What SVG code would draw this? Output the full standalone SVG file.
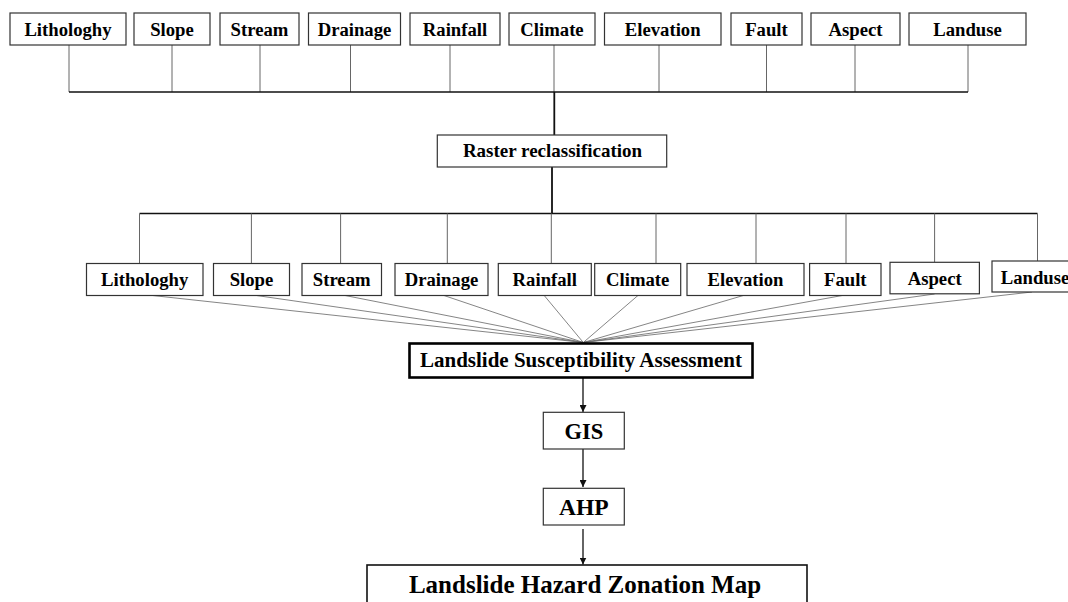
<svg xmlns="http://www.w3.org/2000/svg" width="1068" height="602" viewBox="0 0 1068 602">
<defs>
<style>
.box{fill:#fff;stroke:#333;stroke-width:1.2}
.thick{fill:#fff;stroke:#000;stroke-width:2.6}
.t{font-family:"Liberation Serif","Times New Roman",serif;font-weight:bold;fill:#000;text-anchor:middle}
.s{font-size:18.7px}
.drop{stroke:#666;stroke-width:1;fill:none}
.bus{stroke:#111;stroke-width:1.6;fill:none}
.fan{stroke:#666;stroke-width:0.8;fill:none}
.arr{stroke:#111;stroke-width:1.3;fill:none;marker-end:url(#ah)}
</style>
<marker id="ah" viewBox="0 0 10 10" refX="10" refY="5" markerWidth="7" markerHeight="7" markerUnits="userSpaceOnUse" orient="auto">
<path d="M0,0 L10,5 L0,10 z" fill="#111"/>
</marker>
</defs>
<rect width="1068" height="602" fill="#fff"/>

<g id="connectors">
<path class="drop" d="M69,45V92 M172,45V92 M260,45V92 M350.5,45V92 M450,45V92 M554,45V92 M659,45V92 M766.5,45V92 M855,45V92 M968,45V92"/>
<path class="bus" d="M69,92H968"/>
<path class="bus" d="M554.3,92V135" style="stroke-width:1.8"/>
<path class="bus" d="M552,167V213.5" style="stroke-width:1.8"/>
<path class="bus" d="M139.5,213.5H1037.5"/>
<path class="drop" d="M139.5,213.5V263 M251.4,213.5V263 M340.6,213.5V263 M447.3,213.5V263 M551.3,213.5V263 M656,213.5V263 M756,213.5V263 M846,213.5V263 M934.6,213.5V262 M1037.5,213.5V261"/>
<path class="fan" d="M148,295L583.3,342.5 M253,295L583.3,342.5 M342.6,295L583.3,342.5 M442.5,295L583.3,342.5 M543.8,295L583.3,342.5 M638.5,295L583.3,342.5 M745,295L583.3,342.5 M845,295L583.3,342.5 M934.6,294L583.3,342.5 M1032,292L583.3,342.5"/>
<path class="arr" d="M583,378V412"/>
<path class="arr" d="M583,449V487"/>
<path class="arr" d="M583,529V564.5"/>
</g>

<g id="top-lithologhy"><rect class="box" x="10" y="13" width="116" height="32"/><text class="t s" x="68" y="35.5">Lithologhy</text></g>
<g id="top-slope"><rect class="box" x="134" y="13" width="76" height="32"/><text class="t s" x="172" y="35.5">Slope</text></g>
<g id="top-stream"><rect class="box" x="220" y="13" width="79" height="32"/><text class="t s" x="259.5" y="35.5">Stream</text></g>
<g id="top-drainage"><rect class="box" x="308.5" y="13" width="92" height="32"/><text class="t s" x="354.5" y="35.5">Drainage</text></g>
<g id="top-rainfall"><rect class="box" x="410" y="13" width="90" height="32"/><text class="t s" x="455" y="35.5">Rainfall</text></g>
<g id="top-climate"><rect class="box" x="509" y="13" width="86" height="32"/><text class="t s" x="552" y="35.5">Climate</text></g>
<g id="top-elevation"><rect class="box" x="604.5" y="13" width="116.5" height="32"/><text class="t s" x="662.7" y="35.5">Elevation</text></g>
<g id="top-fault"><rect class="box" x="731" y="13" width="71" height="32"/><text class="t s" x="766.5" y="35.5">Fault</text></g>
<g id="top-aspect"><rect class="box" x="811" y="13" width="89" height="32"/><text class="t s" x="855.5" y="35.5">Aspect</text></g>
<g id="top-landuse"><rect class="box" x="909" y="13" width="117" height="32"/><text class="t s" x="967.5" y="35.5">Landuse</text></g>

<g id="raster"><rect class="box" x="437.3" y="135" width="229.4" height="32"/><text class="t" style="font-size:19px" x="552.5" y="157.3">Raster reclassification</text></g>

<g id="mid-lithologhy"><rect class="box" x="86.5" y="263.5" width="116.5" height="32"/><text class="t s" x="144.7" y="286">Lithologhy</text></g>
<g id="mid-slope"><rect class="box" x="213.5" y="263.5" width="76" height="32"/><text class="t s" x="251.5" y="286">Slope</text></g>
<g id="mid-stream"><rect class="box" x="302" y="263.5" width="79.5" height="32"/><text class="t s" x="341.7" y="286">Stream</text></g>
<g id="mid-drainage"><rect class="box" x="395" y="263.5" width="93" height="32"/><text class="t s" x="441.5" y="286">Drainage</text></g>
<g id="mid-rainfall"><rect class="box" x="498.3" y="263.5" width="93" height="32"/><text class="t s" x="544.8" y="286">Rainfall</text></g>
<g id="mid-climate"><rect class="box" x="594.7" y="263.5" width="86" height="32"/><text class="t s" x="637.7" y="286">Climate</text></g>
<g id="mid-elevation"><rect class="box" x="687" y="263.5" width="117" height="32"/><text class="t s" x="745.5" y="286">Elevation</text></g>
<g id="mid-fault"><rect class="box" x="809.6" y="263.5" width="71.4" height="32"/><text class="t s" x="845.3" y="286">Fault</text></g>
<g id="mid-aspect"><rect class="box" x="890" y="262.3" width="89.4" height="31.5"/><text class="t s" x="934.7" y="284.5">Aspect</text></g>
<g id="mid-landuse"><rect class="box" x="992" y="261" width="100" height="31"/><text class="t s" x="1035" y="284">Landuse</text></g>

<g id="lsa"><rect class="thick" x="409.5" y="343.5" width="343" height="34"/><text class="t" style="font-size:21px" x="581" y="367">Landslide Susceptibility Assessment</text></g>
<g id="gis"><rect class="box" x="543.3" y="412.3" width="81" height="36.7"/><text class="t" style="font-size:22.5px" x="583.8" y="439">GIS</text></g>
<g id="ahp"><rect class="box" x="543.3" y="488.3" width="81" height="36.7"/><text class="t" style="font-size:23.5px" x="583.8" y="515">AHP</text></g>
<g id="lhzm"><rect x="367" y="565" width="440" height="60" fill="#fff" stroke="#111" stroke-width="1.6"/><text class="t" style="font-size:25px" x="585" y="593">Landslide Hazard Zonation Map</text></g>
</svg>
